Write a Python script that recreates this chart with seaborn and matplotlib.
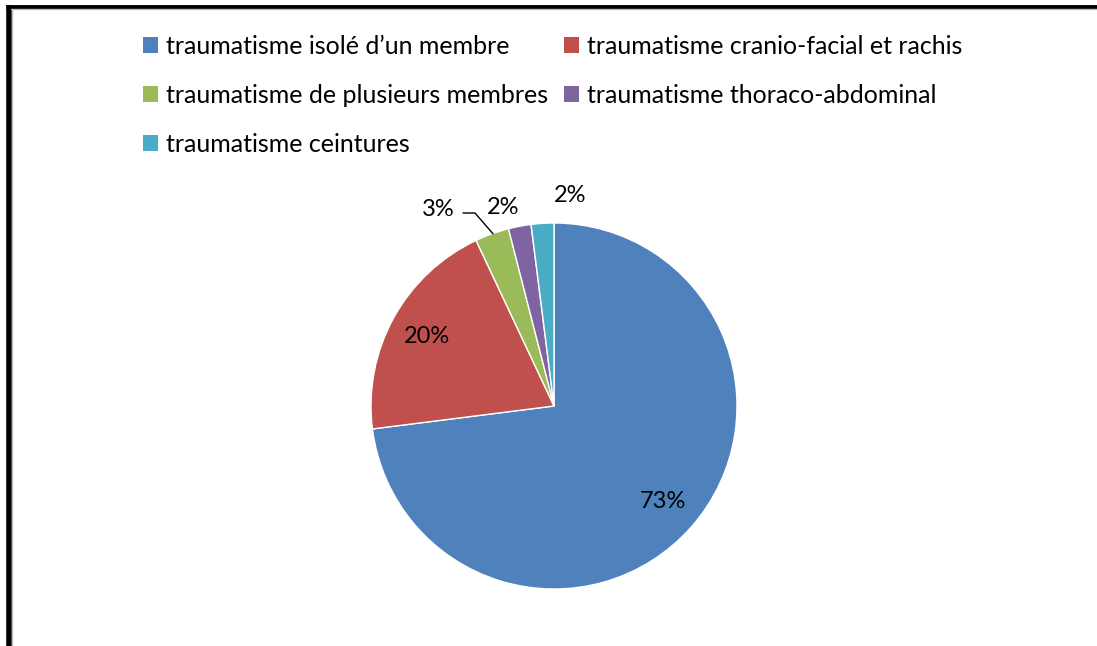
import matplotlib
matplotlib.use("Agg")
import matplotlib.pyplot as plt
from matplotlib.lines import Line2D
from matplotlib.patches import Patch
import numpy as np
import seaborn as sns

categories = [
    "traumatisme isolé d\u2019un membre",
    "traumatisme cranio-facial et rachis",
    "traumatisme de plusieurs membres",
    "traumatisme thoraco-abdominal",
    "traumatisme ceintures",
]
shares = [73, 20, 3, 2, 2]
colors = ["#4F81BD", "#C0504D", "#9BBB59", "#8064A2", "#4BACC6"]

sns.set_theme(style="white")
plt.rcParams["font.family"] = ["Lato", "DejaVu Sans"]

W, H = 1097, 646
fig = plt.figure(figsize=(W / 100, H / 100), dpi=100)
ax = fig.add_axes([0, 0, 1, 1])

cx, cy, r = 554, H - 406, 183
wedges, _ = ax.pie(
    shares, colors=colors, startangle=90, counterclock=False,
    radius=r, center=(cx, cy), frame=True,
    wedgeprops=dict(edgecolor="white", linewidth=1),
)
ax.set_xlim(0, W)
ax.set_ylim(0, H)
ax.set_aspect("equal")
ax.axis("off")

# percentage labels
total = sum(shares)
angles = []
acc = 0
for v in shares:
    mid = 90 - (acc + v / 2) / total * 360
    angles.append(np.deg2rad(mid))
    acc += v

fs = 17
for i in (0, 1):
    a = angles[i]
    ax.text(cx + 0.79 * r * np.cos(a), cy + 0.79 * r * np.sin(a),
            f"{shares[i]}%", ha="center", va="center", fontsize=fs, color="black")

# outside labels for the thin slices
ax.text(438, H - 209, f"{shares[2]}%", ha="center", va="center", fontsize=fs, color="black")
ax.text(503, H - 207, f"{shares[3]}%", ha="center", va="center", fontsize=fs, color="black")
ax.text(570, H - 195, f"{shares[4]}%", ha="center", va="center", fontsize=fs, color="black")
a = angles[2]
ex, ey = cx + r * np.cos(a), cy + r * np.sin(a)
ax.plot([463, 475, ex + 1], [H - 213, H - 213, ey], color="black", lw=1)

# legend
order = [0, 2, 4, 1, 3]
handles = [Patch(facecolor=colors[i], edgecolor="none") for i in order]
labels = [categories[i] for i in order]
fig.legend(handles, labels, loc="upper left", bbox_to_anchor=(143 / W, 1 - 35 / H),
           ncol=2, frameon=False, fontsize=18, handlelength=0.6, handleheight=0.6,
           handletextpad=0.32, columnspacing=0.64, labelspacing=1.03, borderaxespad=0,
           borderpad=0, labelcolor="black")

# frame
def fline(xs, ys, **kw):
    fig.add_artist(Line2D([x / W for x in xs], [1 - y / H for y in ys], **kw))

fline([8.5, 8.5], [5, H], color="black", lw=4, solid_capstyle="butt")
fline([6, W], [6.5, 6.5], color="black", lw=3.5, solid_capstyle="butt")
fline([11.5, 11.5], [9, H], color="#BBBBBB", lw=1)
fline([11, W], [9, 9], color="#BBBBBB", lw=1)

fig.savefig("out.png", dpi=100)
